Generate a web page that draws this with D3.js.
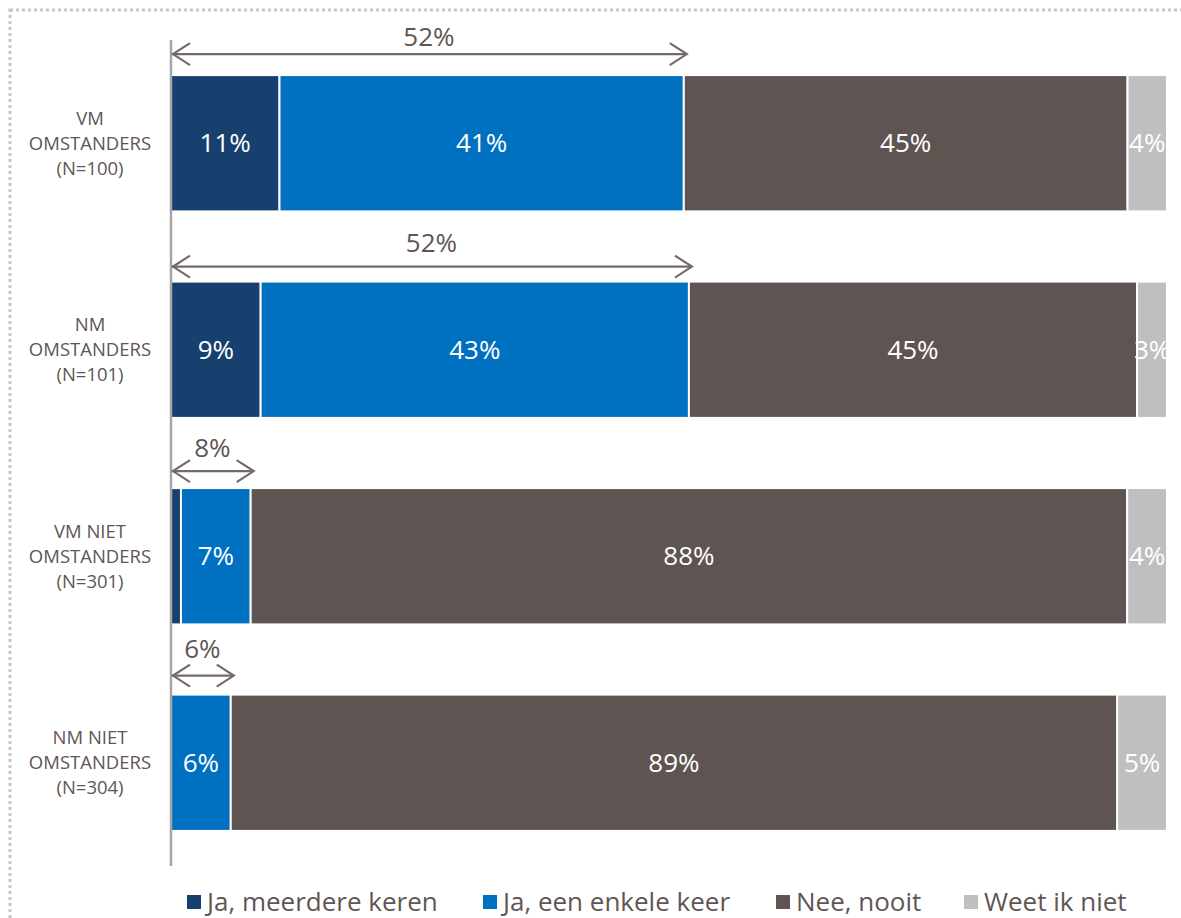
<!DOCTYPE html>
<html>
<head>
<meta charset="utf-8">
<script src="https://cdn.jsdelivr.net/npm/d3@7"></script>
<style>
  html, body { margin: 0; padding: 0; background: #fff; }
  svg { display: block; font-family: "Open Sans", "Noto Sans", sans-serif; }
</style>
</head>
<body>
<svg id="chart" width="1181" height="918"></svg>
<script>
// Survey answers per group (percent)
const categories = [
  ["VM", "OMSTANDERS", "(N=100)"],
  ["NM", "OMSTANDERS", "(N=101)"],
  ["VM NIET", "OMSTANDERS", "(N=301)"],
  ["NM NIET", "OMSTANDERS", "(N=304)"]
];
const seriesNames = ["Ja, meerdere keren", "Ja, een enkele keer", "Nee, nooit", "Weet ik niet"];
const meerdereKeren = [11, 9, 1, 0];
const enkeleKeer    = [41, 43, 7, 6];
const neeNooit      = [45, 45, 88, 89];
const weetNiet      = [4, 3, 4, 5];
// labels shown on each segment ("" = no label)
const segmentLabels = [
  ["11%", "41%", "45%", "4%"],
  ["9%", "43%", "45%", "3%"],
  ["", "7%", "88%", "4%"],
  ["", "6%", "89%", "5%"]
];
// total "ja" bracket above each bar
const jaTotals = [52, 52, 8, 6];

const colors = ["#17406f", "#0070c0", "#5e5452", "#bfbfbf"];
const textColor = "#5f5654";
// vertical placement of each bracket: arrow above bar top, label above arrow
const arrowGap = [21, 15, 17, 19];
const arrowLabelGap = [8, 15, 14, 18];

const svg = d3.select("#chart");

// dotted frame around the chart
svg.append("rect")
  .attr("x", 10).attr("y", 10)
  .attr("width", 1200).attr("height", 940)
  .attr("fill", "none")
  .attr("stroke", "#c6c6c6")
  .attr("stroke-width", 3)
  .attr("stroke-dasharray", "3,3");

const rows = categories.map((c, i) => ({
  key: i,
  [seriesNames[0]]: meerdereKeren[i],
  [seriesNames[1]]: enkeleKeer[i],
  [seriesNames[2]]: neeNooit[i],
  [seriesNames[3]]: weetNiet[i]
}));

const stack = d3.stack().keys(seriesNames).offset(d3.stackOffsetExpand);
const stacked = stack(rows);

const x = d3.scaleLinear().domain([0, 1]).range([171, 1167]);
const y = d3.scaleBand().domain(d3.range(categories.length))
  .range([40, 866]).paddingInner(0.34).paddingOuter(0.17);

// bars
const layers = svg.append("g").selectAll("g")
  .data(stacked).join("g")
  .attr("fill", (d, i) => colors[i]);

layers.selectAll("rect")
  .data(d => d.map((v, r) => ({ v, r })))
  .join("rect")
  .attr("x", d => x(d.v[0]))
  .attr("y", d => y(d.r))
  .attr("width", d => Math.max(0, x(d.v[1]) - x(d.v[0])))
  .attr("height", y.bandwidth())
  .attr("stroke", "#fff")
  .attr("stroke-width", d => (x(d.v[1]) - x(d.v[0])) > 0 ? 2 : 0);

// segment value labels
stacked.forEach((layer, s) => {
  svg.append("g").selectAll("text")
    .data(layer.map((v, r) => ({ v, r, t: segmentLabels[r][s] })).filter(d => d.t))
    .join("text")
    .attr("x", d => (x(d.v[0]) + x(d.v[1])) / 2)
    .attr("y", d => y(d.r) + y.bandwidth() / 2)
    .attr("dy", "0.35em")
    .attr("text-anchor", "middle")
    .attr("fill", "#fff")
    .attr("font-size", 26)
    .text(d => d.t);
});

// clip anything past the right end of the bars
svg.append("rect").attr("x", 1167).attr("y", 60).attr("width", 20).attr("height", 790).attr("fill", "#fff");

// vertical axis line
svg.append("line")
  .attr("x1", 171).attr("x2", 171)
  .attr("y1", 40).attr("y2", 866)
  .attr("stroke", "#a6a6a6").attr("stroke-width", 2.5);

// category labels
const catG = svg.append("g");
categories.forEach((lines, i) => {
  const cy = y(i) + y.bandwidth() / 2;
  const t = catG.append("text")
    .attr("text-anchor", "middle")
    .attr("fill", textColor)
    .attr("font-size", 18.5);
  lines.forEach((ln, j) => {
    t.append("tspan").attr("x", 90).attr("y", cy + (j - 1) * 25).attr("dy", "0.35em").text(ln);
  });
});

// "ja" total brackets with arrows
const arrowColor = "#756a68";
const brackets = svg.append("g");
jaTotals.forEach((tot, i) => {
  const x0 = x(0);
  const x1 = x(stacked[1][i][1]) + 3;
  const ay = y(i) - arrowGap[i];
  const g = brackets.append("g")
    .attr("stroke", arrowColor).attr("stroke-width", 2.2).attr("fill", "none");
  g.append("line").attr("x1", x0 + 1).attr("x2", x1).attr("y1", ay).attr("y2", ay);
  g.append("path").attr("d", `M${x0 + 19},${ay - 11} L${x0 + 2},${ay} L${x0 + 19},${ay + 11}`);
  g.append("path").attr("d", `M${x1 - 17},${ay - 11} L${x1},${ay} L${x1 - 17},${ay + 11}`);
  brackets.append("text")
    .attr("x", (x0 + x1) / 2)
    .attr("y", ay - arrowLabelGap[i])
    .attr("text-anchor", "middle")
    .attr("fill", textColor)
    .attr("font-size", 26)
    .text(tot + "%");
});

// legend
const legendX = [187, 483, 776, 964];
const legend = svg.append("g");
seriesNames.forEach((name, i) => {
  legend.append("rect")
    .attr("x", legendX[i]).attr("y", 895)
    .attr("width", 14).attr("height", 14)
    .attr("fill", colors[i]);
  legend.append("text")
    .attr("x", legendX[i] + 20).attr("y", 911)
    .attr("fill", textColor)
    .attr("font-size", 26)
    .text(name);
});
</script>
</body>
</html>
